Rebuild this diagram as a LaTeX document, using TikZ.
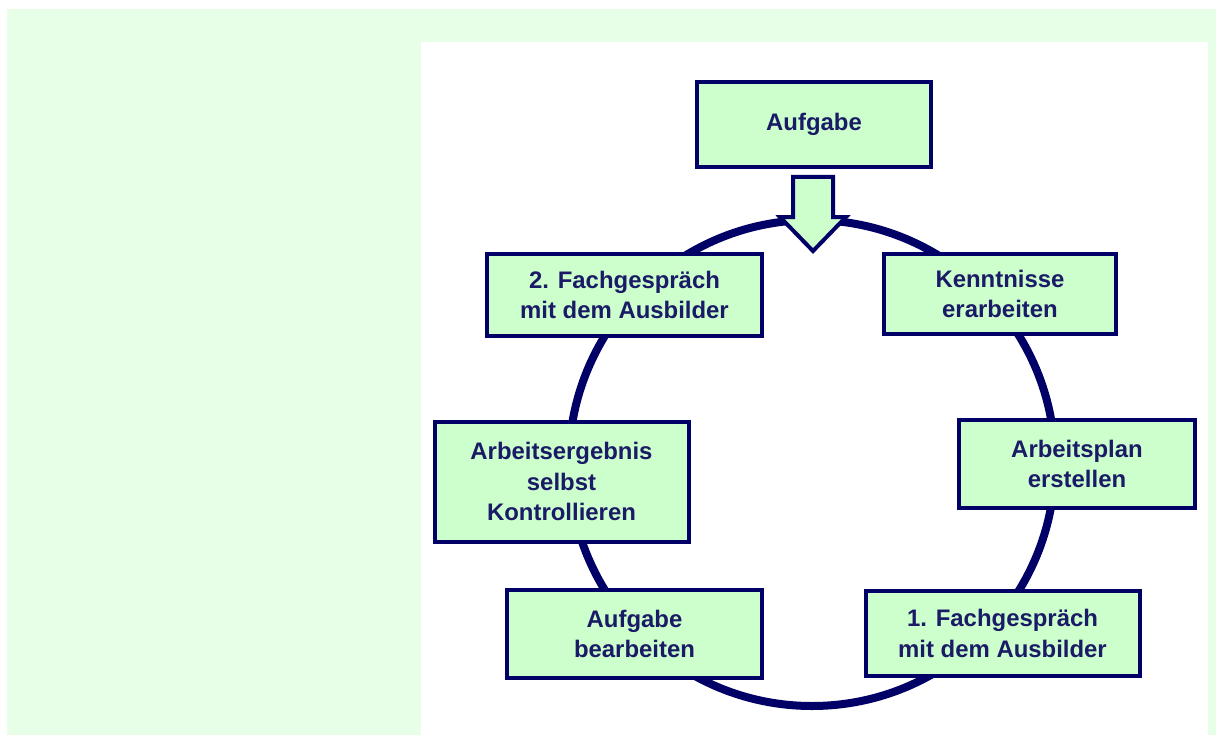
\documentclass[tikz,border=0pt]{standalone}
\usepackage{fontspec}
\setmainfont{Liberation Sans}
\definecolor{pagegreen}{HTML}{E6FFE6}
\definecolor{boxgreen}{HTML}{CCFFCC}
\definecolor{navy}{HTML}{000066}
\definecolor{textnavy}{HTML}{1A1A66}
\begin{document}
\begin{tikzpicture}[x=1bp,y=-1bp,
  stepbox/.style={draw=navy, fill=boxgreen, line width=4bp, align=center,
    text=textnavy, font=\fontsize{24}{30.5}\selectfont\bfseries,
    inner sep=0pt, anchor=center},
  ring/.style={draw=navy, line width=8bp}]
  % page background and white panel
  \useasboundingbox (0,0) rectangle (1216,735);
  \fill[white] (0,0) rectangle (1216,735);
  \fill[pagegreen] (7,9) rectangle (1216,735);
  \fill[white] (421,42) rectangle (1208,735);
  % cycle ring
  \coordinate (c) at (812,463);
  \draw[ring] (c) circle[radius=243];
  % entry arrow
  \draw[navy, line width=4bp, fill=boxgreen, line join=miter]
    (793,177) -- (833,177) -- (833,217) -- (846,217) -- (813,251)
    -- (780,217) -- (793,217) -- cycle;
  % steps
  \node[stepbox, minimum width=234bp, minimum height=85bp] (task) at (814,124.5) {Aufgabe};
  \node[stepbox, minimum width=232bp, minimum height=80bp] (know) at (1000,294) {Kenntnisse\\erarbeiten};
  \node[stepbox, minimum width=236bp, minimum height=88bp] (plan) at (1077,464) {Arbeitsplan\\erstellen};
  \node[stepbox, minimum width=274bp, minimum height=85bp] (talkA) at (1002.5,633.5) {1. Fachgespräch\\mit dem Ausbilder};
  \node[stepbox, minimum width=255bp, minimum height=88bp] (work) at (634.5,634) {Aufgabe\\bearbeiten};
  \node[stepbox, minimum width=254bp, minimum height=120bp] (check) at (561.5,481.5) {Arbeitsergebnis\\selbst\\Kontrollieren};
  \node[stepbox, minimum width=275bp, minimum height=82bp] (talkB) at (624.5,295) {2. Fachgespräch\\mit dem Ausbilder};
\end{tikzpicture}
\end{document}
